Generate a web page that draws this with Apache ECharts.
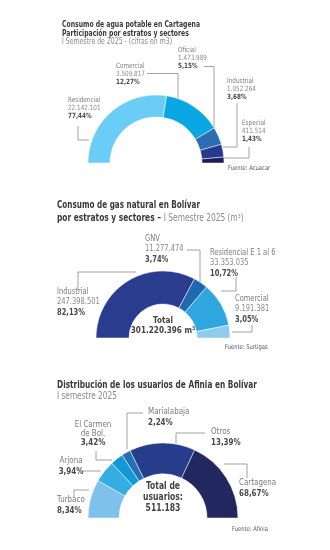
<!DOCTYPE html>
<html><head><meta charset="utf-8">
<script src="https://cdn.jsdelivr.net/npm/echarts@6/dist/echarts.min.js"></script>
<style>html,body{margin:0;padding:0;background:#fff}#c{width:330px;height:550px}</style>
</head><body><div id="c"></div>
<script>
// ---------- DATA ----------
// Chart 1: agua potable Cartagena
const aguaSectores = ['Residencial', 'Comercial', 'Oficial', 'Industrial', 'Especial'];
const aguaM3 = [22142101, 3509817, 1473989, 1052264, 411514];
const aguaPct = [77.44, 12.27, 5.15, 3.68, 1.43];
// share of the half ring each sector occupies as drawn in the reference (out of 180)
const aguaArco = [99, 50, 15, 11, 5];

// Chart 2: gas natural Bolívar
const gasSectores = ['Industrial', 'GNV', 'Residencial E 1 al 6', 'Comercial'];
const gasM3 = [247398501, 11277474, 33353035, 9191381];
const gasPct = [82.13, 3.74, 10.72, 3.05];
const gasArco = [118, 12.5, 38.5, 11];
const gasTotal = 301220396;

// Chart 3: usuarios Afinia
const afiniaMunicipios = ['Turbaco', 'Arjona', 'El Carmen\nde Bol.', 'Marialabaja', 'Otros', 'Cartagena'];
const afiniaPct = [8.34, 3.94, 3.42, 2.24, 13.39, 68.67];
const afiniaArco = [30, 17, 10, 7, 51, 65];
const afiniaTotal = 511183;

// ---------- STYLE / LAYOUT ----------
const FF = '"Liberation Sans Narrow","DejaVu Sans Condensed",Roboto,sans-serif';
const aguaColors = ['#6acdf5', '#0aa7e4', '#2b6cb3', '#243a8e', '#1c1e5c'];
const gasColors = ['#293c8e', '#2168b2', '#2ea6df', '#8ecbef'];
const afiniaColors = ['#7fc1ea', '#33ade4', '#1199d6', '#2470b6', '#263d8c', '#22285f'];

const fmtN = n => String(n).replace(/\B(?=(\d{3})+(?!\d))/g, '.');
const fmtP = p => p.toFixed(2).replace('.', ',') + '%';

const G = [];
function txt(x, y, text, size, color, bold, align, sx) {
  G.push({type: 'text', x: x, y: y, scaleX: sx || 0.88, silent: true, style: {
    text: text, fill: color, fontSize: size, fontFamily: FF,
    fontWeight: bold ? 'bold' : 'normal', align: align || 'left', verticalAlign: 'middle'}});
}
function line(pts) {
  G.push({type: 'polyline', silent: true, shape: {points: pts},
    style: {stroke: '#8c8c8c', lineWidth: 0.8, fill: null}});
}
function block(x, y, lines, sp, size, align) {
  lines.forEach((l, i) => txt(x, y + i * sp, l[0], size, l[1], l[2], align));
}
const cName = '#7a7a7a', cVal = '#8a8a8a', cPct = '#4a4a4a', cTitle = '#3a3a3a', cSub = '#8a8a8a';

// ----- Chart 1 texts -----
txt(62, 25, 'Consumo de agua potable en Cartagena', 8.6, cTitle, true, 'left', 0.79);
txt(62, 33.5, 'Participación por estratos y sectores', 8.6, cTitle, true, 'left', 0.79);
txt(62, 42, 'I Semestre de 2025 - (cifras en m3)', 8.6, cSub, false, 'left', 0.8);
const aguaLbl = [[68, 100], [116, 66], [178, 50], [227, 81], [242, 123]];
aguaSectores.forEach((s, i) => block(aguaLbl[i][0], aguaLbl[i][1],
  [[s, cName], [fmtN(aguaM3[i]), cVal], [fmtP(aguaPct[i]), cPct, true]], 8.3, 7.2));
line([[78, 126], [78, 140], [89, 140]]);
line([[147, 73.5], [178, 73.5], [178, 98]]);
line([[204, 66.5], [214, 66.5], [214, 128]]);
line([[237, 103], [237, 147], [223, 147]]);
line([[249, 147], [249, 158], [223, 158]]);
txt(228, 168, 'Fuente: Acuacar', 6.6, '#555', false);

// ----- Chart 2 texts -----
txt(57, 205, 'Consumo de gas natural en Bolívar', 9.6, cTitle, true, 'left', 0.84);
G.push({type: 'text', x: 57, y: 218, scaleX: 0.865, silent: true, style: {
  text: '{b|por estratos y sectores –} {r|I Semestre 2025 (m³)}', verticalAlign: 'middle',
  rich: {b: {fontSize: 9.6, fontFamily: FF, fontWeight: 'bold', fill: cTitle},
         r: {fontSize: 9.6, fontFamily: FF, fill: cSub}}}});
const gasLbl = [[57, 292], [145, 239], [210, 253], [235, 299]];
gasSectores.forEach((s, i) => block(gasLbl[i][0], gasLbl[i][1],
  [[s, cName], [fmtN(gasM3[i]), cVal], [fmtP(gasPct[i]), cPct, true]], 10.2, 8.5));
line([[78, 290], [78, 272], [136, 272]]);
line([[187, 250], [200, 250], [200, 284]]);
line([[236, 277], [236, 291], [221, 291]]);
line([[252, 325], [252, 332], [232, 332]]);
txt(163, 321, 'Total', 9.2, '#444', true, 'center');
txt(163, 331, fmtN(gasTotal) + ' m³', 9.2, '#444', true, 'center');
txt(225, 347, 'Fuente: Surtigas', 6.6, '#555', false);

// ----- Chart 3 texts -----
txt(57, 385, 'Distribución de los usuarios de Afinia en Bolívar', 9.6, cTitle, true, 'left', 0.855);
txt(57, 396, 'I semestre 2025', 9.6, cSub, false, 'left', 0.855);
const afLbl = [[57, 500, 'left'], [71, 461, 'center'], [93, 425, 'center'], [148, 412, 'left'], [211, 432, 'left'], [239, 483, 'left']];
afiniaMunicipios.forEach((s, i) => {
  const parts = s.split('\n');
  const lines = parts.map(p => [p, cName]);
  lines.push([fmtP(afiniaPct[i]), cPct, true]);
  block(afLbl[i][0], afLbl[i][1], lines, 8.6 + (parts.length === 1 ? 1.6 : 0), 9, afLbl[i][2]);
});
line([[74, 497], [74, 490], [89, 490]]);
line([[83, 471], [101, 471]]);
line([[96, 451], [96, 460], [112, 460]]);
line([[143, 413], [127, 413], [127, 449]]);
line([[205, 433], [176, 433], [176, 444]]);
line([[247, 478], [247, 464], [224, 464]]);
txt(163, 486, 'Total de', 10, '#444', true, 'center', 0.85);
txt(163, 497, 'usuarios:', 10, '#444', true, 'center', 0.85);
txt(163, 508, fmtN(afiniaTotal), 10, '#444', true, 'center', 0.85);
txt(232, 529, 'Fuente: Afinia', 6.6, '#555', false);

// ---------- CHART ----------
function half(center, radius, arcs, names, colors) {
  return {type: 'pie', center: center, radius: radius, startAngle: 180, endAngle: 0,
    clockwise: true, silent: true, animation: false, label: {show: false}, labelLine: {show: false},
    itemStyle: {borderColor: '#ffffff', borderWidth: 0.5},
    data: arcs.map((v, i) => ({value: v, name: names[i], itemStyle: {color: colors[i]}}))};
}
const chart = echarts.init(document.getElementById('c'), null, {renderer: 'canvas'});
chart.setOption({
  animation: false,
  series: [
    half([156, 163], [46, 68], aguaArco, aguaSectores, aguaColors),
    half([163, 338], [34, 67], gasArco, gasSectores, gasColors),
    half([163, 518], [44, 75], afiniaArco, afiniaMunicipios, afiniaColors)
  ],
  graphic: G
});
</script></body></html>
